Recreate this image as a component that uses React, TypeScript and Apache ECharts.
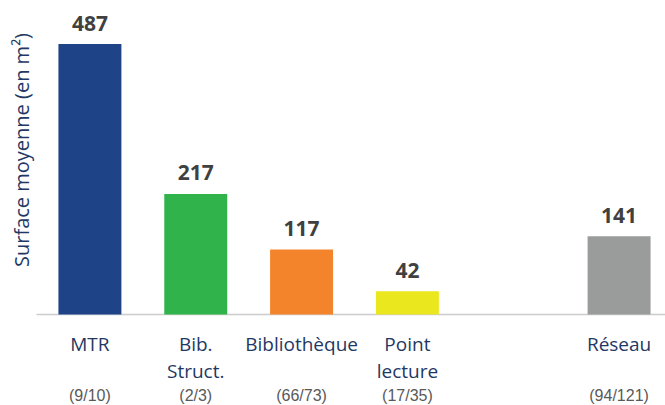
import React, { useEffect, useRef } from "react";
import * as echarts from "echarts";

const categories = ["MTR", "Bib.\nStruct.", "Bibliothèque", "Point\nlecture", "", "Réseau"];
const counts = ["(9/10)", "(2/3)", "(66/73)", "(17/35)", "", "(94/121)"];
const values: (number | null)[] = [487, 217, 117, 42, null, 141];
const colors = ["#1F4387", "#31B34B", "#F4842B", "#EBE71E", "#ffffff", "#9A9C9C"];
const yTitle = "Surface moyenne (en m²)";

export default function App() {
  const ref = useRef<HTMLDivElement>(null);
  useEffect(() => {
    document.body.style.margin = "0";
    const chart = echarts.init(ref.current!, null, { renderer: "svg" });
    const labels = categories.map((c, i) => {
      const lines = c.split("\n");
      while (lines.length < 2) lines.push(" ");
      return lines.join("\n") + "\n{c|" + (counts[i] || " ") + "}";
    });
    chart.setOption({
      animation: false,
      grid: { left: 37, width: 635, top: 36.8, height: 277.7, outerBoundsMode: "none", containLabel: false },
      xAxis: {
        type: "category",
        data: labels,
        axisLine: { show: true, lineStyle: { color: "#cccccc", width: 1.3 } },
        axisTick: { show: false },
        axisLabel: {
          interval: 0,
          margin: 15.5,
          fontSize: 19,
          lineHeight: 27,
          color: "#1F3864",
          fontFamily: "Open Sans",
          rich: {
            c: {
              fontSize: 16,
              lineHeight: 22,
              color: "#595959",
              fontFamily: "Liberation Sans",
            },
          },
        },
      },
      yAxis: { type: "value", min: 0, max: 500, show: false },
      graphic: [
        {
          type: "text",
          x: 21,
          y: 150,
          rotation: Math.PI / 2,
          style: {
            text: yTitle,
            fontSize: 20,
            fontFamily: "Open Sans",
            fill: "#1F3864",
            align: "center",
            verticalAlign: "middle",
          },
        },
      ],
      series: [
        {
          type: "bar",
          barWidth: "59.5%",
          data: values.map((v, i) => ({ value: v, itemStyle: { color: colors[i] } })),
          label: {
            show: true,
            position: "top",
            distance: 11,
            fontSize: 21,
            fontWeight: "bold",
            fontFamily: "Open Sans",
            color: "#404040",
          },
        },
      ],
    });
    return () => chart.dispose();
  }, []);
  return <div ref={ref} style={{ width: 665, height: 405 }} />;
}
